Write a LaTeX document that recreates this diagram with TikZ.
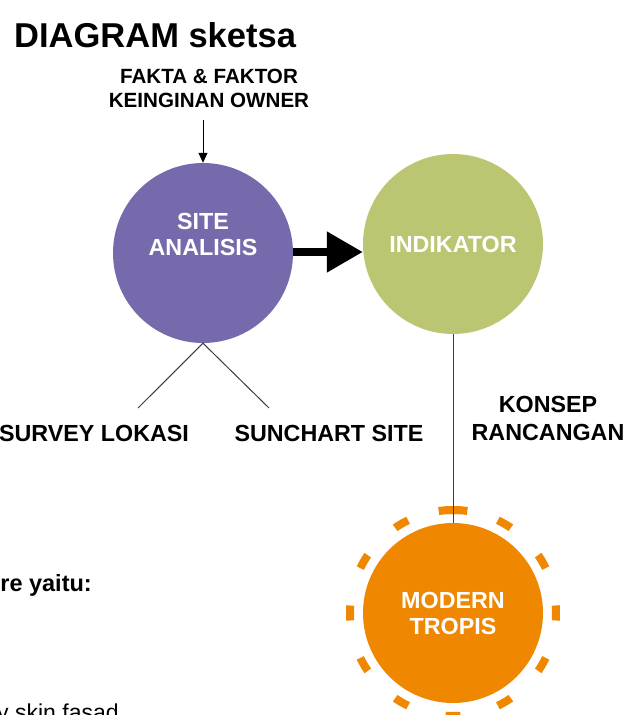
\documentclass[tikz,border=0pt]{standalone}
\usepackage{fontspec}
\setmainfont{Liberation Sans}
\usetikzlibrary{arrows.meta}
\definecolor{cpurple}{RGB}{119,106,172}
\definecolor{cgreen}{RGB}{188,198,114}
\definecolor{corange}{RGB}{240,135,0}
\definecolor{cline}{RGB}{60,60,60}
\tikzset{
  bubble/.style={circle, minimum size=180pt, inner sep=0pt},
  btext/.style={text=white, font=\fontsize{23.3}{26}\selectfont\bfseries, align=center, inner sep=0pt},
  lbl/.style={font=\fontsize{23.3}{28}\selectfont\bfseries, align=center, inner sep=0pt},
  thin/.style={draw=cline, line width=1pt},
  ring/.style={corange, line width=8pt},
}
\begin{document}
\begin{tikzpicture}[x=1pt,y=-1pt]
\useasboundingbox (0,0) rectangle (625,715);
\clip (0,0) rectangle (625,715);
% title
\node[anchor=west, inner sep=0pt, font=\fontsize{34.5}{38}\selectfont\bfseries] (title) at (14,35) {DIAGRAM sketsa};
\node[font=\fontsize{20.6}{24}\selectfont\bfseries, align=center, inner sep=0pt] (fakta) at (209,88) {FAKTA \& FAKTOR\\KEINGINAN OWNER};
% circles
\node[bubble, fill=cpurple] (site) at (203,253) {};
\node[btext] (sitet) at (203,234) {SITE\\ANALISIS};
\node[bubble, fill=cgreen] (ind) at (453,244) {};
\node[btext] (indt) at (453,244) {INDIKATOR};
\draw[ring, dash pattern=on 15pt off 38.93pt, dash phase=7.5pt] (453,613) circle[radius=103];
\draw[ring] (453,613) ++(0,-103) arc[start angle=-90, end angle=-82, radius=103];
\draw[ring] (453,613) ++(0,-103) arc[start angle=-90, end angle=-98, radius=103];
\node[bubble, fill=corange] (mod) at (453,613) {};
\node[btext] (modt) at (453,613) {MODERN\\TROPIS};
% arrows
\coordinate (fin) at (203,120);
\draw[-{Triangle[length=10pt,width=9pt]}, line width=1pt] (fin) -- (site.north);
\draw[-{Triangle[length=36pt,width=39pt]}, line width=8pt] (site.east |- 0,252) -- (ind.west |- 0,252);
\coordinate (sl) at (138,408);
\coordinate (sr) at (269,408);
\draw[thin] (sl) -- (site.south) -- (sr);
\draw[thin] (ind.south) -- (mod.north);
% labels
\node[lbl] (survey) at (94,433) {SURVEY LOKASI};
\node[lbl] (sun) at (329,433) {SUNCHART SITE};
\node[lbl] (konsep) at (548,418) {KONSEP\\RANCANGAN};
\node[anchor=east, inner sep=0pt, font=\fontsize{23.5}{26}\selectfont\bfseries] (yaitu) at (92,585) {re yaitu:};
\node[anchor=base west, inner sep=0pt, font=\fontsize{23}{26}\selectfont] (skin) at (-3,720) {y skin fasad};
\end{tikzpicture}
\end{document}
